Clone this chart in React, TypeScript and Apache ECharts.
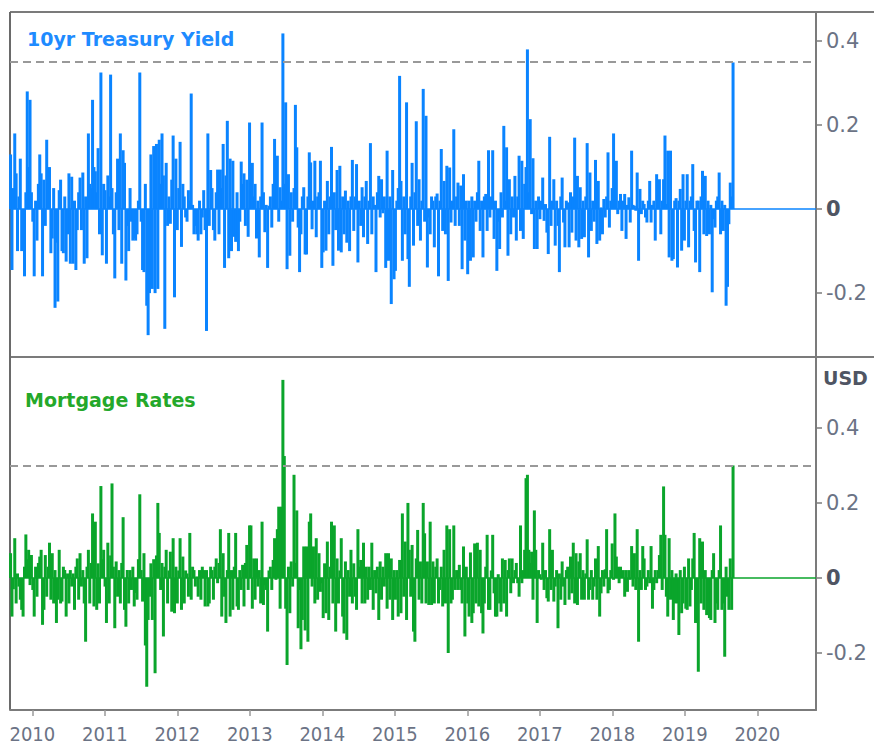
import React, { useEffect, useRef } from "react";
import * as echarts from "echarts";

// ---- data -------------------------------------------------------------
const FIRST_WEEK = 2009.7; // first weekly bar (late Sept 2009)
const WEEK_YEARS = 7 / 365.25;
const X_MIN = 2009.692;
const X_MAX = 2020.81;
const YEAR_LABELS = [2010, 2011, 2012, 2013, 2014, 2015, 2016, 2017, 2018, 2019, 2020];
const Y_TICKS = [-0.2, 0, 0.2, 0.4];
const PANEL_TITLES = ["10yr Treasury Yield", "Mortgage Rates"];
const UNIT_LABEL = "USD";

// weekly change, 10yr Treasury yield
const treasury = [
  0.13, -0.145, 0.05, 0.18, 0.085, -0.1, 0.03, 0.12, -0.1, -0.07,
  -0.16, 0.04, 0.28, 0.1, 0.26, 0.04, -0.03, -0.16, 0.02, -0.075,
  0.06, 0.13, 0.085, -0.16, 0.07, -0.04, 0.165, 0.06, 0.1, -0.105,
  -0.07, 0.05, -0.235, -0.08, -0.22, 0.045, 0.07, -0.1, -0.105, 0.03,
  -0.125, -0.06, 0.085, -0.13, 0.077, -0.13, 0.02, -0.145, -0.05, 0.04,
  0.075, -0.05, 0.087, -0.13, 0.03, -0.117, 0.18, 0.06, 0.05, 0.26,
  0.1, 0.09, 0.04, 0.145, -0.06, 0.325, -0.11, 0.06, 0.045, -0.13,
  0.08, 0.03, 0.32, 0.05, -0.06, -0.165, 0.04, 0.12, -0.05, 0.18,
  -0.13, 0.14, 0.11, -0.17, -0.04, -0.1, 0.05, -0.03, -0.075, -0.07,
  -0.075, -0.06, 0.02, 0.325, -0.03, -0.145, -0.15, 0.06, -0.23, -0.3,
  -0.2, 0.13, -0.19, 0.15, -0.2, 0.155, -0.19, 0.165, 0.06, 0.18,
  0.08, -0.285, 0.11, -0.04, 0.03, -0.035, 0.07, 0.175, -0.21, 0.12,
  -0.05, 0.05, 0.16, -0.09, 0.06, 0.03, -0.02, -0.03, 0.045, 0.02,
  0.275, 0.01, -0.06, -0.04, -0.06, -0.075, 0.02, -0.06, -0.02, 0.045,
  -0.05, -0.29, 0.18, -0.04, 0.093, 0.05, -0.05, -0.075, 0.04, 0.094,
  -0.06, 0.094, 0.05, 0.155, -0.14, 0.08, 0.21, -0.117, 0.12, -0.1,
  0.115, -0.066, -0.078, 0.04, -0.1, -0.03, 0.113, 0.06, 0.085, -0.04,
  0.07, -0.066, 0.206, 0.06, 0.11, 0.03, 0.06, -0.07, 0.02, -0.115,
  0.03, 0.206, 0.04, -0.055, 0.01, -0.14, 0.008, 0.03, -0.044, 0.06,
  0.167, 0.04, 0.127, -0.03, 0.052, 0.02, 0.418, 0.06, 0.254, -0.143,
  0.083, -0.111, 0.04, -0.03, 0.05, 0.248, 0.147, -0.044, -0.15, -0.06,
  0.03, 0.052, -0.108, -0.108, 0.03, 0.135, 0.111, -0.048, 0.02, 0.115,
  -0.067, 0.03, 0.04, 0.115, -0.14, -0.103, 0.02, -0.099, 0.067, -0.06,
  0.03, 0.148, -0.135, 0.04, -0.05, 0.093, -0.099, 0.103, -0.103, 0.03,
  -0.06, 0.044, -0.08, 0.02, -0.1, 0.03, 0.117, -0.052, 0.03, 0.107,
  -0.127, 0.02, -0.04, 0.052, -0.067, 0.03, 0.067, -0.083, 0.02, 0.157,
  -0.06, 0.03, 0.01, -0.15, 0.04, 0.079, -0.02, 0.071, -0.01, 0.03,
  -0.14, 0.139, -0.123, 0.03, -0.226, 0.093, -0.167, -0.147, 0.02, 0.05,
  0.317, 0.067, -0.123, 0.03, -0.06, 0.254, -0.119, -0.185, 0.03, 0.11,
  -0.087, 0.04, 0.209, -0.04, 0.071, -0.075, 0.02, 0.286, -0.03, 0.222,
  -0.139, -0.02, -0.06, 0.03, 0.02, -0.091, 0.03, 0.037, -0.16, 0.02,
  0.143, -0.052, 0.067, -0.06, 0.103, -0.171, 0.099, -0.032, 0.02, 0.19,
  -0.04, 0.03, 0.063, -0.04, 0.056, -0.143, 0.083, -0.075, 0.02, -0.155,
  0.02, -0.123, 0.03, -0.115, 0.02, -0.03, 0.04, 0.115, -0.052, 0.02,
  -0.115, 0.03, 0.036, -0.052, 0.14, -0.02, 0.03, 0.14, -0.071, 0.02,
  -0.147, -0.03, -0.095, 0.04, -0.02, 0.198, 0.02, 0.147, -0.111, 0.071,
  -0.06, 0.03, -0.02, 0.079, -0.075, 0.03, 0.127, -0.052, 0.115, -0.071,
  0.06, 0.1, 0.38, 0.04, 0.214, -0.012, 0.121, -0.095, 0.02, -0.095,
  0.03, -0.024, 0.02, 0.075, -0.028, 0.012, -0.056, -0.107, 0.172, -0.04,
  0.02, 0.071, -0.087, 0.02, -0.04, -0.15, 0.03, 0.075, -0.032, -0.091,
  0.02, 0.016, -0.091, 0.04, -0.056, 0.03, 0.17, -0.075, 0.079, -0.091,
  0.052, -0.071, 0.02, -0.067, 0.03, 0.157, -0.115, 0.087, -0.052, 0.02,
  -0.03, 0.117, -0.083, 0.067, -0.075, 0.004, -0.06, 0.024, -0.02, 0.03,
  0.135, -0.044, 0.02, 0.05, 0.18, 0.04, 0.115, -0.012, 0.02, 0.036,
  -0.052, 0.02, 0.036, -0.071, 0.01, 0.028, -0.032, 0.139, 0.01, 0.008,
  -0.004, 0.087, -0.123, 0.048, -0.012, 0.02, 0.012, -0.02, -0.032, 0.02,
  0.067, -0.032, 0.01, 0.02, -0.075, 0.083, 0.03, 0.071, -0.06, 0.02,
  0.071, 0.175, 0.012, 0.139, -0.115, 0.139, -0.123, -0.119, 0.02, 0.026,
  -0.139, 0.02, 0.048, -0.099, 0.083, -0.075, 0.02, 0.083, -0.091, 0.02,
  0.03, 0.107, -0.052, -0.127, 0.02, 0.02, -0.15, 0.03, 0.091, -0.06,
  0.079, -0.064, 0.02, -0.06, 0.01, -0.198, -0.024, -0.044, 0.02, 0.03,
  0.087, -0.06, 0.02, -0.052, 0.01, -0.23, -0.185, -0.036, 0.063, 0.03,
  0.349,
];

// weekly change, 30yr mortgage rate
const mortgage = [
  0.066, -0.103, -0.03, 0.106, -0.068, 0.012, -0.023, -0.058, -0.085, -0.103,
  0.03, 0.116, 0.05, 0.075, -0.019, 0.061, -0.032, -0.103, 0.03, -0.05,
  0.04, 0.057, 0.075, -0.125, -0.085, 0.061, -0.05, 0.03, 0.094, -0.058,
  0.066, -0.068, 0.021, -0.12, -0.058, 0.075, -0.068, -0.063, 0.03, 0.021,
  -0.103, 0.012, -0.068, 0.021, -0.023, 0.012, -0.085, 0.03, 0.052, -0.058,
  0.066, -0.023, 0.021, -0.068, -0.17, 0.03, 0.075, -0.068, 0.04, 0.172,
  -0.076, 0.15, -0.085, 0.039, -0.068, 0.245, 0.05, 0.075, -0.023, -0.12,
  0.094, -0.068, 0.06, 0.252, 0.03, -0.134, 0.044, -0.05, 0.021, -0.068,
  0.04, 0.162, -0.085, -0.13, 0.021, -0.068, 0.021, -0.032, 0.03, -0.076,
  -0.04, -0.058, 0.05, 0.223, 0.021, -0.063, 0.066, -0.18, -0.29, -0.112,
  -0.05, 0.039, -0.112, 0.05, -0.254, 0.06, 0.2, 0.12, -0.032, 0.04,
  -0.156, 0.03, 0.075, -0.068, 0.02, 0.07, -0.09, 0.106, -0.094, 0.03,
  -0.068, 0.02, 0.106, -0.085, 0.057, -0.068, 0.02, 0.012, -0.05, 0.12,
  -0.058, 0.03, 0.021, -0.023, 0.004, -0.05, 0.021, -0.058, 0.03, 0.021,
  -0.076, 0.021, -0.076, -0.068, 0.03, 0.021, -0.058, 0.03, 0.052, -0.014,
  0.04, 0.13, -0.103, 0.066, -0.05, -0.12, 0.021, 0.12, -0.103, 0.021,
  -0.085, 0.03, 0.12, -0.076, -0.085, 0.021, -0.032, 0.035, -0.076, 0.04,
  0.088, -0.032, 0.14, 0.14, -0.082, 0.052, -0.058, 0.052, -0.023, 0.021,
  -0.068, 0.15, -0.072, -0.019, -0.032, -0.143, 0.02, 0.03, -0.032, 0.048,
  0.106, -0.005, 0.13, 0.19, -0.082, 0.19, 0.528, 0.325, -0.082, -0.232,
  0.03, -0.094, 0.044, -0.023, 0.275, 0.04, 0.18, -0.134, -0.032, -0.19,
  -0.112, 0.084, -0.14, 0.084, -0.17, 0.15, 0.172, -0.023, 0.084, -0.068,
  0.106, -0.058, 0.066, -0.037, -0.014, -0.107, 0.039, -0.094, 0.097, -0.112,
  0.03, 0.15, -0.068, 0.14, -0.143, 0.052, -0.068, 0.02, 0.106, -0.103,
  -0.148, 0.044, -0.165, 0.021, -0.05, 0.075, -0.068, 0.039, -0.05, -0.085,
  0.13, 0.03, 0.048, -0.068, 0.094, -0.068, 0.03, -0.058, 0.03, -0.032,
  0.094, -0.085, 0.021, -0.041, 0.03, -0.112, 0.044, -0.058, 0.03, -0.023,
  0.066, -0.082, 0.066, -0.058, 0.052, -0.112, 0.021, -0.058, 0.021, -0.103,
  0.048, -0.094, 0.172, -0.05, 0.097, -0.112, 0.2, 0.075, -0.05, 0.088,
  -0.143, -0.17, 0.052, 0.128, -0.058, 0.044, -0.068, 0.2, 0.119, -0.068,
  0.044, -0.072, 0.15, -0.072, 0.044, -0.068, 0.03, 0.052, -0.068, -0.032,
  0.03, -0.076, 0.075, -0.068, 0.14, -0.2, 0.13, -0.068, -0.058, 0.14,
  -0.032, 0.021, -0.032, 0.035, -0.032, -0.068, 0.084, -0.156, 0.03, -0.068,
  -0.103, 0.068, -0.12, -0.094, 0.092, -0.068, 0.094, -0.076, 0.075, -0.094,
  -0.148, -0.068, 0.03, 0.115, -0.085, -0.085, 0.02, 0.115, -0.041, -0.103,
  -0.103, 0.01, -0.068, -0.09, 0.052, -0.068, 0.048, -0.103, 0.021, 0.052,
  -0.041, 0.052, -0.014, 0.021, 0.04, -0.014, -0.05, 0.14, -0.014, 0.021,
  0.075, 0.266, 0.275, 0.075, 0.04, 0.07, -0.058, 0.18, 0.075, -0.12,
  0.021, 0.01, -0.005, 0.094, -0.032, 0.021, -0.054, -0.063, 0.13, -0.032,
  0.075, -0.063, -0.023, 0.021, -0.134, 0.012, -0.058, 0.044, -0.023, -0.072,
  0.021, 0.03, -0.058, 0.057, -0.041, 0.094, -0.068, 0.066, -0.072, 0.044,
  0.066, -0.058, 0.021, -0.058, 0.012, 0.103, -0.058, -0.032, 0.021, -0.058,
  -0.023, 0.052, -0.058, 0.085, -0.103, -0.041, 0.021, -0.023, 0.023, 0.13,
  -0.041, -0.032, 0.021, 0.092, -0.005, 0.172, 0.057, 0.03, -0.014, 0.03,
  0.004, 0.021, -0.05, 0.021, -0.037, 0.021, -0.005, 0.085, -0.023, 0.066,
  -0.032, 0.13, -0.17, 0.021, -0.032, 0.085, 0.052, -0.032, -0.023, 0.021,
  -0.014, 0.085, -0.082, -0.032, 0.021, -0.014, 0.021, 0.061, 0.115, -0.032,
  0.244, 0.115, -0.05, -0.103, 0.106, -0.058, 0.021, -0.112, -0.068, 0.012,
  -0.068, -0.152, 0.021, -0.094, -0.068, 0.03, -0.082, -0.085, 0.052, -0.076,
  -0.032, 0.052, 0.12, -0.12, -0.068, -0.25, 0.106, -0.068, 0.097, -0.085,
  0.021, -0.099, -0.06, -0.107, -0.112, 0.021, 0.066, -0.12, -0.068, -0.085,
  0.021, 0.14, -0.085, -0.068, -0.21, 0.03, -0.05, -0.085, 0.052, -0.085,
  0.3,
];

// ---- style ------------------------------------------------------------
const BLUE = "#0A84FF";
const GREEN = "#0AA52B";
const BLUE_TITLE = "#1E8BFF";
const GREEN_TITLE = "#24A82A";
const FRAME = "#7b7b7b";
const LABEL = "#6b7385";
const DASH = "#999999";
const FONT = "'DejaVu Sans', Verdana, sans-serif";
const NARROW = "'Liberation Sans Narrow', 'DejaVu Sans Condensed', 'Liberation Sans', sans-serif";
const BAR_PX = 3;

export default function App() {
  const ref = useRef<HTMLDivElement>(null);

  useEffect(() => {
    if (!ref.current) return;
    const chart = echarts.init(ref.current, null, { renderer: "svg" });
    const toPoints = (arr: number[]) => arr.map((v, i) => [FIRST_WEEK + i * WEEK_YEARS, v]);

    const yAxisBase = (gridIndex: number, min: number, max: number) => ({
      type: "value",
      gridIndex,
      position: "right",
      min,
      max,
      splitLine: { show: false },
      axisLine: { show: true, lineStyle: { color: FRAME, width: 2 } },
      axisTick: { show: true, length: 6, customValues: Y_TICKS, lineStyle: { color: FRAME, width: 1.5 } },
      axisLabel: {
        show: true,
        customValues: Y_TICKS,
        margin: 10,
        formatter: (v: number) => (v === 0 ? "{z|0}" : "{n|" + v + "}"),
        rich: {
          n: { color: LABEL, fontSize: 21, fontFamily: FONT },
          z: { color: "#4f5563", fontSize: 21, fontFamily: FONT, fontWeight: "bold" },
        },
      },
    });

    const barSeries = (idx: number, arr: number[], color: string) => ({
      type: "custom",
      xAxisIndex: idx,
      yAxisIndex: idx,
      data: toPoints(arr),
      silent: true,
      encode: { x: 0, y: 1 },
      renderItem: (_params: any, api: any) => {
        const x = api.value(0);
        const v = api.value(1);
        const p0 = api.coord([x, 0]);
        const p1 = api.coord([x, v]);
        return {
          type: "rect",
          shape: {
            x: p0[0] - BAR_PX / 2,
            y: Math.min(p0[1], p1[1]),
            width: BAR_PX,
            height: Math.max(Math.abs(p1[1] - p0[1]), 1),
          },
          style: { fill: color },
        };
      },
    });

    const baseSeries = (idx: number, arr: number[], color: string) => ({
      type: "line",
      xAxisIndex: idx,
      yAxisIndex: idx,
      data: [
        [FIRST_WEEK, 0],
        [X_MAX, 0],
      ],
      symbol: "none",
      silent: true,
      z: 1,
      lineStyle: { color, width: 1.5 },
      markLine: {
        silent: true,
        symbol: ["none", "none"],
        label: { show: false },
        data: [{ yAxis: arr[arr.length - 1], lineStyle: { color: DASH, width: 2, type: [8, 5] } }],
      },
    });

    const option: any = {
      animation: false,
      backgroundColor: "#ffffff",
      grid: [
        { left: 10, right: 58, top: 12, height: 345 },
        { left: 10, right: 58, top: 357, height: 353 },
      ],
      xAxis: [
        { type: "value", gridIndex: 0, min: X_MIN, max: X_MAX, show: false, splitLine: { show: false } },
        {
          type: "value",
          gridIndex: 1,
          min: X_MIN,
          max: X_MAX,
          position: "bottom",
          splitLine: { show: false },
          axisLine: { show: true, onZero: false, lineStyle: { color: FRAME, width: 2 } },
          axisTick: { show: true, length: 6, customValues: YEAR_LABELS, lineStyle: { color: "#9a9a9a", width: 1.5 } },
          axisLabel: {
            show: true,
            customValues: YEAR_LABELS,
            margin: 14,
            color: LABEL,
            fontSize: 20,
            fontFamily: NARROW,
            formatter: (v: number) => String(v),
          },
        },
      ],
      yAxis: [yAxisBase(0, -0.352, 0.469), yAxisBase(1, -0.352, 0.589)],
      series: [
        baseSeries(0, treasury, BLUE),
        barSeries(0, treasury, BLUE),
        baseSeries(1, mortgage, GREEN),
        barSeries(1, mortgage, GREEN),
      ],
      graphic: [
        { type: "line", shape: { x1: 10, y1: 12, x2: 874, y2: 12 }, style: { stroke: FRAME, lineWidth: 2 }, silent: true },
        { type: "line", shape: { x1: 10, y1: 357, x2: 874, y2: 357 }, style: { stroke: FRAME, lineWidth: 2 }, silent: true },
        { type: "line", shape: { x1: 10, y1: 12, x2: 10, y2: 710 }, style: { stroke: "#6a6a6a", lineWidth: 2 }, silent: true },
        {
          type: "text",
          left: 27,
          top: 29,
          style: { text: PANEL_TITLES[0], fill: BLUE_TITLE, font: "bold 19px " + FONT },
          silent: true,
        },
        {
          type: "text",
          left: 25,
          top: 390,
          style: { text: PANEL_TITLES[1], fill: GREEN_TITLE, font: "bold 19px " + FONT },
          silent: true,
        },
        {
          type: "text",
          left: 823,
          top: 368,
          style: { text: UNIT_LABEL, fill: "#4f5563", font: "bold 19px " + FONT },
          silent: true,
        },
      ],
    };

    chart.setOption(option);
    return () => chart.dispose();
  }, []);

  return (
    <div
      ref={ref}
      style={{ position: "absolute", left: 0, top: 0, width: 874, height: 747, background: "#fff" }}
    />
  );
}
